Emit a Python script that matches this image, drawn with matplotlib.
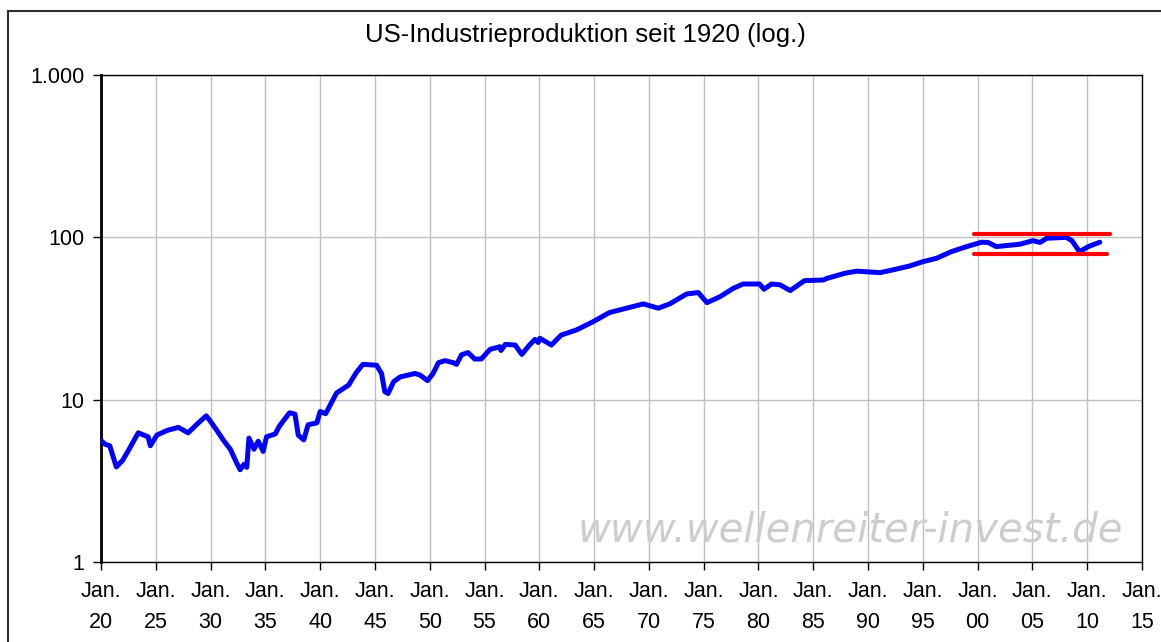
import matplotlib
matplotlib.use("Agg")
import matplotlib.pyplot as plt
from matplotlib.patches import Rectangle
from matplotlib.ticker import FixedLocator, FixedFormatter, NullLocator

plt.rcParams['font.family'] = ['Liberation Sans', 'DejaVu Sans']

title = "US-Industrieproduktion seit 1920 (log.)"
watermark = "www.wellenreiter-invest.de"

years = [1920.0, 1920.4, 1920.8, 1921.4, 1922.0, 1922.6, 1923.4, 1924.3, 1924.5, 1925.1,
         1926.0, 1927.05, 1927.95, 1928.7, 1929.6, 1929.9, 1930.55, 1931.15, 1931.8, 1932.4,
         1932.7, 1933.05, 1933.3, 1933.5, 1933.96, 1934.35, 1934.8, 1935.1, 1935.9, 1936.3,
         1937.2, 1937.7, 1938.0, 1938.5, 1938.9, 1939.7, 1940.0, 1940.5, 1941.5, 1942.6,
         1943.3, 1943.9, 1945.15, 1945.6, 1945.9, 1946.2, 1946.7, 1947.3, 1948.65, 1949.1,
         1949.8, 1950.3, 1950.8, 1951.4, 1952.15, 1952.45, 1952.9, 1953.5, 1954.1, 1954.7,
         1955.5, 1956.4, 1956.5, 1956.9, 1957.8, 1958.4, 1959.1, 1959.6, 1959.9, 1960.05,
         1961.1, 1962.0, 1963.4, 1964.9, 1966.4, 1967.95, 1969.5, 1970.85, 1971.9, 1973.45,
         1974.5, 1975.3, 1976.5, 1977.7, 1978.6, 1980.1, 1980.5, 1981.2, 1981.95, 1982.9,
         1984.2, 1985.9, 1986.3, 1987.9, 1988.95, 1991.1, 1992.3, 1993.8, 1995.0, 1996.25,
         1997.6, 1999.0, 2000.35, 2000.95, 2001.7, 2002.3, 2003.85, 2005.05, 2005.7, 2006.3,
         2008.1, 2008.6, 2009.3, 2010.1, 2011.15]
production = [5.6, 5.3, 5.2, 3.85, 4.25, 5.0, 6.25, 5.9, 5.2, 6.05,
              6.45, 6.75, 6.25, 7.0, 7.95, 7.5, 6.5, 5.65, 4.95, 4.05,
              3.7, 4.0, 3.83, 5.8, 4.95, 5.55, 4.8, 5.9, 6.15, 6.9,
              8.3, 8.15, 6.05, 5.65, 7.0, 7.2, 8.45, 8.2, 11.0, 12.3,
              14.7, 16.5, 16.3, 14.5, 11.2, 10.9, 12.9, 13.8, 14.5, 14.2,
              13.1, 14.5, 16.9, 17.4, 16.9, 16.5, 18.9, 19.5, 17.8, 17.8,
              20.4, 21.2, 20.1, 21.9, 21.7, 19.0, 21.7, 23.5, 22.5, 23.9,
              21.7, 25.0, 26.9, 30.2, 34.4, 36.6, 38.9, 36.6, 38.9, 44.8,
              45.7, 39.6, 43.1, 48.5, 51.6, 51.6, 47.9, 51.6, 51.0, 47.0,
              54.1, 54.6, 56.0, 60.1, 61.9, 60.6, 63.1, 66.6, 70.8, 74.3,
              81.6, 87.7, 93.3, 93.0, 87.7, 88.5, 90.7, 95.4, 93.0, 98.7,
              100.0, 95.4, 81.6, 87.7, 93.3]

band_start = [1999.65, 1999.65]
band_end = [2012.1, 2011.8]
band_level = [104.6, 78.7]

x_ticks = list(range(1920, 2016, 5))
x_labels = ["Jan.\n%02d" % (y % 100) for y in x_ticks]
y_ticks = [1, 10, 100, 1000]
y_labels = ["1", "10", "100", "1.000"]

fig = plt.figure(figsize=(11.61, 6.42), dpi=100)
ax = fig.add_axes([101/1161, 80/642, (1142-101)/1161, (562-75)/642])

ax.plot(years, production, color='#0000FF', lw=3.6, solid_joinstyle='round',
        solid_capstyle='round', zorder=3)
for s, e, lv in zip(band_start, band_end, band_level):
    ax.plot([s, e], [lv, lv], color='#FF0000', lw=3.0, solid_capstyle='round', zorder=4)

ax.set_yscale('log')
ax.set_xlim(1920, 2015)
ax.set_ylim(1, 1000)
ax.xaxis.set_major_locator(FixedLocator(x_ticks))
ax.xaxis.set_major_formatter(FixedFormatter(x_labels))
ax.yaxis.set_major_locator(FixedLocator(y_ticks))
ax.yaxis.set_major_formatter(FixedFormatter(y_labels))
ax.yaxis.set_minor_locator(NullLocator())
ax.xaxis.set_minor_locator(NullLocator())

ax.grid(True, which='major', color='#C0C0C0', lw=1.0)
ax.set_axisbelow(True)
for sp in ['top', 'right', 'bottom']:
    ax.spines[sp].set_linewidth(1.0)
    ax.spines[sp].set_color('black')
ax.spines['left'].set_linewidth(2.0)
ax.tick_params(axis='both', direction='out', length=6, width=1.0, colors='black',
               labelsize=15.5)
ax.tick_params(axis='y', pad=6)
ax.tick_params(axis='x', pad=8)
for lab in ax.get_xticklabels():
    lab.set_linespacing(1.6)

fig.text(585/1161, 1 - 35/642, title, ha='center', va='center', fontsize=18.5)

ax.text(850/1161, 1 - 530/642, watermark, transform=fig.transFigure, ha='center',
        va='center', fontsize=29, style='italic', color='#CDCDCD',
        family=['DejaVu Sans'], zorder=2)

fig.patches.append(Rectangle((8/1161, -0.5), 2.0, 0.5 + (642 - 11)/642,
                             transform=fig.transFigure, fill=False,
                             edgecolor='#303030', lw=1.5))

fig.savefig("out.png", dpi=100)
